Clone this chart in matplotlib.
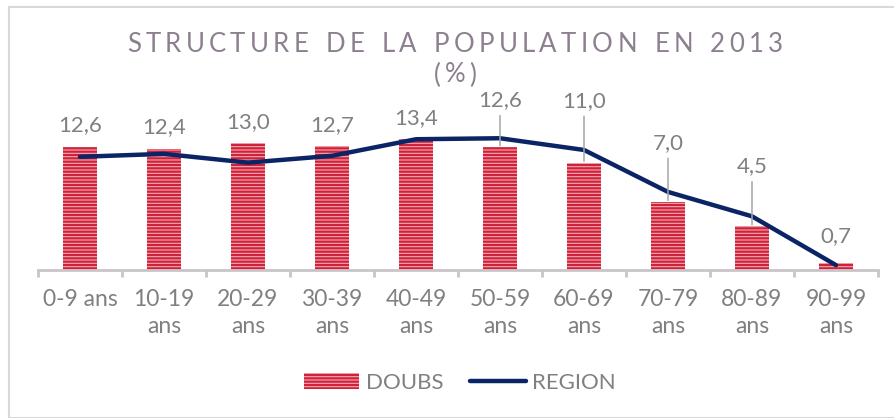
import matplotlib.pyplot as plt
from matplotlib.patches import Rectangle

plt.rcParams['font.family'] = ['Lato', 'DejaVu Sans']
plt.rcParams['hatch.linewidth'] = 1.6

categories = ['0-9 ans', '10-19\nans', '20-29\nans', '30-39\nans', '40-49\nans',
              '50-59\nans', '60-69\nans', '70-79\nans', '80-89\nans', '90-99\nans']
doubs = [12.6, 12.4, 13.0, 12.7, 13.4, 12.6, 11.0, 7.0, 4.5, 0.7]
region = [11.6, 11.9, 11.0, 11.7, 13.4, 13.5, 12.3, 8.0, 5.5, 0.5]
doubs_labels = ['12,6', '12,4', '13,0', '12,7', '13,4', '12,6', '11,0', '7,0', '4,5', '0,7']

W, H = 894, 418
GREY = '#808080'
TITLE = '#8c7f8f'


def spaced_text(fig, xc, yc, s, spacing, **kw):
    # draw text char by char with extra letter spacing (pixels)
    renderer = fig.canvas.get_renderer()
    widths = []
    for ch in s:
        t = fig.text(0, 0, ch if ch != ' ' else 'I', **kw)
        w = t.get_window_extent(renderer).width
        if ch == ' ':
            w *= 1.2
        widths.append(w)
        t.remove()
    total = sum(widths) + spacing * (len(s) - 1)
    x = xc - total / 2
    for ch, w in zip(s, widths):
        if ch != ' ':
            fig.text(x / W, 1 - yc / H, ch, ha='left', va='center', **kw)
        x += w + spacing


fig = plt.figure(figsize=(W / 100, H / 100), dpi=100)
fig.patches.append(Rectangle((9 / W, 0), 2, 1 - 7 / H, transform=fig.transFigure,
                             facecolor='none', edgecolor='#d9d9d9', linewidth=1.5))

ax = fig.add_axes([38 / W, (H - 270) / H, 840 / W, 170 / H])
x = list(range(len(categories)))

bars = ax.bar(x, doubs, width=0.405, facecolor='#f4a9b3', edgecolor='#d0213b',
              hatch='-----', linewidth=0, zorder=2, label='DOUBS')
line, = ax.plot(x, region, color='#0b2466', linewidth=3.2, solid_capstyle='round',
                solid_joinstyle='round', zorder=3, label='REGION')

# label offsets above the bar top, in pixels
offsets = [22, 22, 21, 21, 21, 47, 62, 59, 60, 27]
for i, (v, lab) in enumerate(zip(doubs, doubs_labels)):
    off = offsets[i] * 0.72
    arrow = None
    if offsets[i] > 30:
        arrow = dict(arrowstyle='-', color='#a6a6a6', lw=1.1,
                     shrinkA=2, shrinkB=1, relpos=(0.5, 0))
    ax.annotate(lab, xy=(i, v), xytext=(0, off), textcoords='offset points',
                ha='center', va='center', fontsize=16, color=GREY,
                arrowprops=arrow, zorder=4)

ax.set_xlim(-0.5, len(categories) - 0.5)
ax.set_ylim(0, 17.42)
ax.set_xticks(x)
ax.set_xticklabels(categories, fontsize=16.5, color=GREY, linespacing=1.35)
ax.set_xticks([i - 0.5 for i in range(len(categories) + 1)], minor=True)
ax.tick_params(axis='x', which='major', length=0, pad=14)
ax.tick_params(axis='x', which='minor', length=5, width=2, color='#c9c4c9')
ax.set_yticks([])
for s in ['top', 'right', 'left']:
    ax.spines[s].set_visible(False)
ax.spines['bottom'].set_color('#c9c4c9')
ax.spines['bottom'].set_linewidth(2)

spaced_text(fig, 455, 45, 'STRUCTURE DE LA POPULATION EN 2013', 4.3,
            fontsize=18.5, color=TITLE)
spaced_text(fig, 455, 75, '(%)', 4.3, fontsize=18.5, color=TITLE)

fig.legend([bars, line], ['DOUBS', 'REGION'], loc='center',
           bbox_to_anchor=(460 / W, 1 - 383 / H), ncol=2,
           frameon=False, fontsize=16, handlelength=2.5, handleheight=0.7,
           handletextpad=0.3, columnspacing=1.2, labelcolor=GREY)

fig.savefig('out.png', dpi=100)
